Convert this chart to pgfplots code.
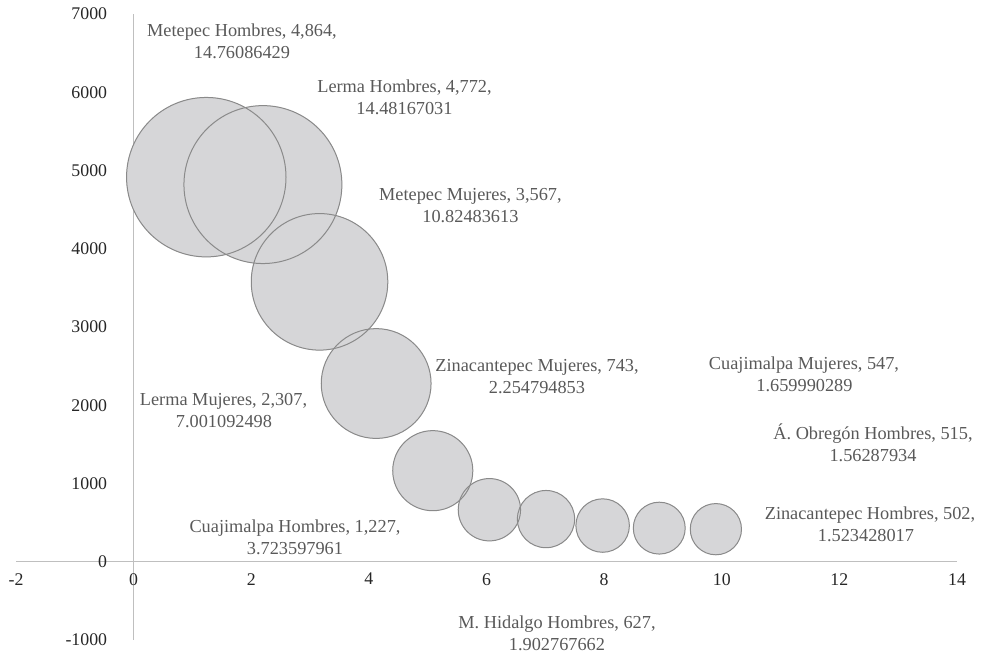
\documentclass[border=0pt]{standalone}
\usepackage{pgfplots}
\usepackage{pgfplotstable}
\pgfplotsset{compat=1.18}
\usepackage{fontspec}
\setmainfont{Liberation Serif}
\definecolor{bubfill}{HTML}{D6D6D8}
\definecolor{bubedge}{HTML}{8A8A8A}
\definecolor{axcol}{HTML}{BFBFBF}
\definecolor{tickcol}{HTML}{262626}
\definecolor{lblcol}{HTML}{595959}

\pgfplotstableread{
x y s
1 4864 14.76086429
2 4772 14.48167031
3 3567 10.82483613
4 2307 7.001092498
5 1227 3.723597961
6 743 2.254794853
7 627 1.902767662
8 547 1.659990289
9 515 1.56287934
10 502 1.523428017
}\bubbles

% #1 x of line 1, #2 x of line 2, #3 baseline of line 1 (px from top), #4 line 1, #5 line 2
\newcommand\lbl[5]{%
  \node[font=\fontsize{18.3}{21.5}\selectfont, text=lblcol, anchor=base, inner sep=0pt] at (#1pt,655pt-#3pt) {#4};
  \node[font=\fontsize{18.3}{21.5}\selectfont, text=lblcol, anchor=base, inner sep=0pt] at (#2pt,633pt-#3pt) {#5};
}

\begin{document}
\begin{tikzpicture}
\path[use as bounding box] (0,0) rectangle (983pt,655pt);
% axes, ticks
\begin{axis}[
  at={(16pt,15pt)}, anchor=south west,
  scale only axis, width=941pt, height=626pt,
  xmin=-2, xmax=14, ymin=-1000, ymax=7000,
  enlargelimits=false,
  axis lines*=middle,
  axis line style={draw=axcol, line width=1.2pt},
  xtick={-2,0,2,4,6,8,10,12,14},
  ytick={-1000,0,1000,2000,3000,4000,5000,6000,7000},
  major tick length=0pt,
  hide obscured x ticks=false, hide obscured y ticks=false,
  tick label style={font=\fontsize{17.8}{20}\selectfont, text=tickcol},
  /pgf/number format/assume math mode=true,
  /pgf/number format/set thousands separator={},
  xticklabel style={anchor=north, yshift=-8pt},
  yticklabel style={anchor=east, xshift=-23pt},
  clip=false,
]
\end{axis}
% bubbles
\begin{axis}[
  at={(149.66pt,85.3pt)}, anchor=south west,
  scale only axis, width=792.7pt, height=564.9pt,
  xmin=0, xmax=14, ymin=0, ymax=7000,
  enlargelimits=false,
  hide axis, clip=false,
]
% fills of all bubbles first
\addplot[scatter, only marks, mark=*,
  visualization depends on={20.75*sqrt(\thisrow{s}) \as \rad},
  scatter/use mapped color={draw=bubfill, fill=bubfill},
  scatter/@pre marker code/.append style={/tikz/mark size=\rad pt}]
  table[x=x, y=y] {\bubbles};
% then all outlines
\addplot[scatter, only marks, mark=o,
  visualization depends on={20.75*sqrt(\thisrow{s}) \as \rad},
  scatter/use mapped color={draw=bubedge, line width=1pt},
  scatter/@pre marker code/.append style={/tikz/mark size=\rad pt}]
  table[x=x, y=y] {\bubbles};
\end{axis}
% data labels
\lbl{242}{242}{36.5}{Metepec Hombres, 4,864,}{14.76086429}
\lbl{404.5}{404.5}{92.5}{Lerma Hombres, 4,772,}{14.48167031}
\lbl{470.4}{470.4}{200.7}{Metepec Mujeres, 3,567,}{10.82483613}
\lbl{223.5}{224}{405.5}{Lerma Mujeres, 2,307,}{7.001092498}
\lbl{295}{295}{532.7}{Cuajimalpa Hombres, 1,227,}{3.723597961}
\lbl{537}{537}{371.7}{Zinacantepec Mujeres, 743,}{2.254794853}
\lbl{557}{557}{629}{M. Hidalgo Hombres, 627,}{1.902767662}
\lbl{804}{804.5}{369.3}{Cuajimalpa Mujeres, 547,}{1.659990289}
\lbl{873}{873}{440}{Á. Obregón Hombres, 515,}{1.56287934}
\lbl{870}{866}{519.3}{Zinacantepec Hombres, 502,}{1.523428017}
\end{tikzpicture}
\end{document}
